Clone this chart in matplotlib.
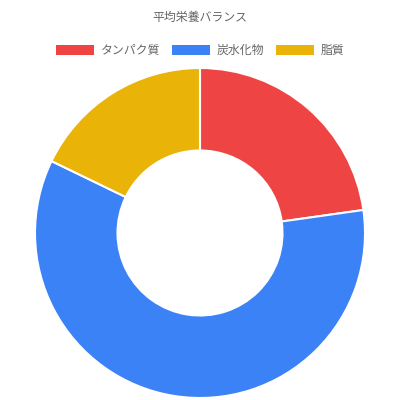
import matplotlib.pyplot as plt
from matplotlib.patches import Rectangle

plt.rcParams['font.family'] = ['Noto Sans CJK JP', 'DejaVu Sans']

# data
labels = ['タンパク質', '炭水化物', '脂質']
values = [23, 60, 18]
colors = ['#EF4444', '#3B82F6', '#EAB308']
title = '平均栄養バランス'

# legend layout (pixel x of each box's left edge)
legend_box_x = [56, 172, 276]

W = H = 400
fig = plt.figure(figsize=(W / 100, H / 100), dpi=100)

# doughnut: centre (200, 233), radius 165 px
r = 165
ax = fig.add_axes([(200 - r) / W, (H - 233 - r) / H, 2 * r / W, 2 * r / H])
ax.pie(values, colors=colors, startangle=90, counterclock=False,
       radius=1.0,
       wedgeprops=dict(width=0.5, edgecolor='white', linewidth=1.5))
ax.set_xlim(-1, 1)
ax.set_ylim(-1, 1)
ax.set_aspect('equal')
ax.axis('off')

fig.text(0.5, 1 - 17 / H, title, ha='center', va='center',
         fontsize=8.6, color='#666666')

# legend drawn by hand to match spacing
ly = 50
for x0, lab, c in zip(legend_box_x, labels, colors):
    fig.patches.append(Rectangle((x0 / W, 1 - (ly + 5) / H), 38 / W, 10 / H,
                                 transform=fig.transFigure, facecolor=c,
                                 edgecolor='none'))
    fig.text((x0 + 45) / W, 1 - ly / H, lab, ha='left', va='center',
             fontsize=8.6, color='#666666')

fig.savefig('out.png', dpi=100)
